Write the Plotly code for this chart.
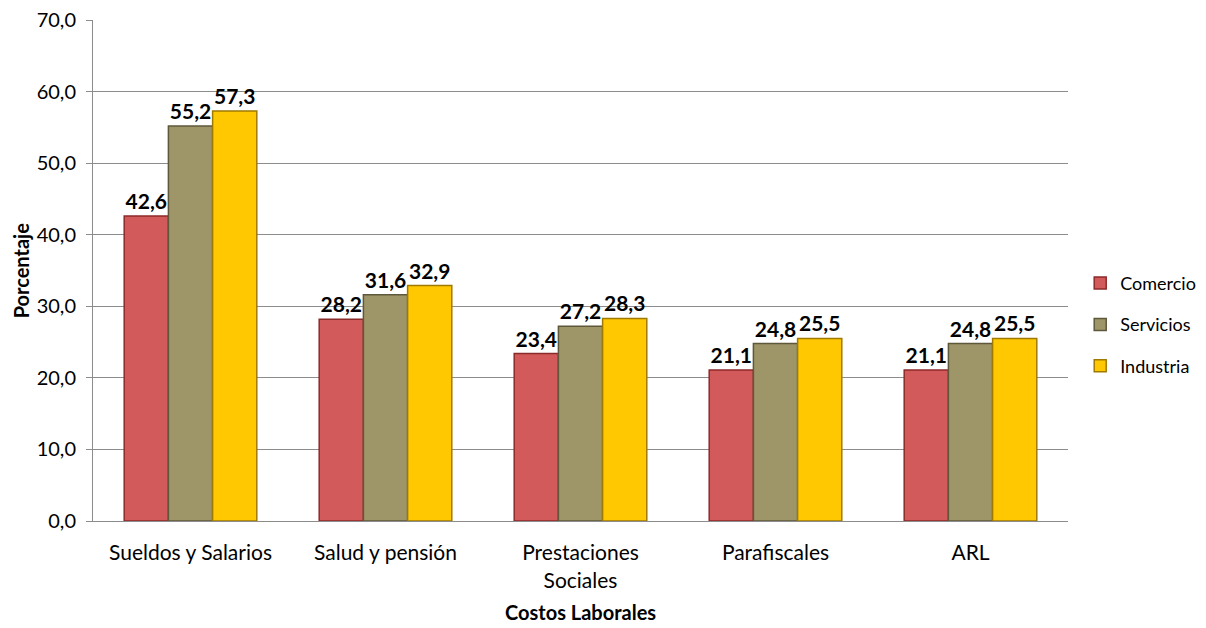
import plotly.graph_objects as go

# Costos laborales por sector (%)
categorias = ['Sueldos y Salarios', 'Salud y pensión', 'Prestaciones<br>Sociales', 'Parafiscales', 'ARL']
comercio = [42.6, 28.2, 23.4, 21.1, 21.1]
servicios = [55.2, 31.6, 27.2, 24.8, 24.8]
industria = [57.3, 32.9, 28.3, 25.5, 25.5]

series = [
    ('Comercio', comercio, '#d25a5a', '#8c2a2a'),
    ('Servicios', servicios, '#9e9668', '#5e583a'),
    ('Industria', industria, '#ffc800', '#a07a00'),
]

fig = go.Figure()
for name, vals, color, edge in series:
    fig.add_trace(go.Bar(
        x=categorias,
        y=vals,
        name=name,
        legendgroup=name,
        marker=dict(color=color, line=dict(color=edge, width=1.5)),
        texttemplate='%{y:.1f}',
        textposition='outside',
        textfont=dict(family='Lato', size=21, color='black', weight='bold'),
        cliponaxis=False,
    ))

# the page body has an 8px margin, so the figure is 8px smaller each way
fig.update_layout(
    width=1198,
    height=620,
    separators=',.',
    barmode='group',
    bargap=0.32,
    bargroupgap=0,
    plot_bgcolor='white',
    paper_bgcolor='white',
    font=dict(family='Lato', size=20, color='black'),
    margin=dict(l=85, r=138, t=12, b=107),
    legend=dict(xref='container', yref='container', x=0.895, y=0.489,
                yanchor='middle', xanchor='left',
                font=dict(size=18), traceorder='grouped', tracegroupgap=15,
                itemwidth=30),
    xaxis=dict(
        automargin=False,
        showline=True, linecolor='#8c8c8c', linewidth=1,
        ticks='', tickfont=dict(size=21), ticklabelstandoff=13,
    ),
    yaxis=dict(
        automargin=False,
        range=[0, 70], dtick=10, tickformat='.1f',
        showgrid=True, gridcolor='#8c8c8c', gridwidth=1,
        showline=True, linecolor='#8c8c8c', linewidth=1,
        ticks='outside', ticklen=6, tickcolor='#8c8c8c',
        tickfont=dict(size=20), ticklabelstandoff=6,
        ticklabeloverflow='allow',
        zeroline=False,
    ),
    annotations=[
        dict(text='<b>Costos Laborales</b>', xref='paper', yref='paper',
             x=0.5, y=-0.182, xanchor='center', yanchor='middle',
             showarrow=False, font=dict(size=20)),
        dict(text='<b>Porcentaje</b>', xref='paper', yref='paper',
             x=-0.074, y=0.5, xanchor='center', yanchor='middle',
             textangle=-90, showarrow=False, font=dict(size=20)),
    ],
)

fig.write_html('out.html')
